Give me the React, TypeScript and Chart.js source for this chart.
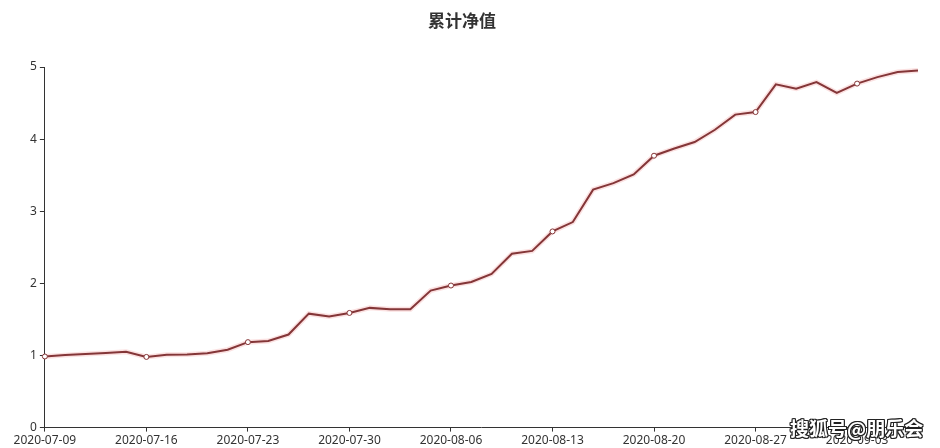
import { useEffect, useRef } from "react";
import { Chart, registerables } from "chart.js";

Chart.register(...registerables);

// trading days, 2020
const dates = [
  "2020-07-09", "2020-07-10", "2020-07-13", "2020-07-14", "2020-07-15",
  "2020-07-16", "2020-07-17", "2020-07-20", "2020-07-21", "2020-07-22",
  "2020-07-23", "2020-07-24", "2020-07-27", "2020-07-28", "2020-07-29",
  "2020-07-30", "2020-07-31", "2020-08-03", "2020-08-04", "2020-08-05",
  "2020-08-06", "2020-08-07", "2020-08-10", "2020-08-11", "2020-08-12",
  "2020-08-13", "2020-08-14", "2020-08-17", "2020-08-18", "2020-08-19",
  "2020-08-20", "2020-08-21", "2020-08-24", "2020-08-25", "2020-08-26",
  "2020-08-27", "2020-08-28", "2020-08-31", "2020-09-01", "2020-09-02",
  "2020-09-03", "2020-09-04", "2020-09-07", "2020-09-08",
];

const netValue = [
  0.986, 1.005, 1.02, 1.035, 1.05,
  0.98, 1.01, 1.015, 1.03, 1.08,
  1.185, 1.2, 1.29, 1.58, 1.54,
  1.59, 1.66, 1.64, 1.64, 1.9,
  1.97, 2.02, 2.13, 2.41, 2.45,
  2.72, 2.85, 3.3, 3.39, 3.51,
  3.77, 3.87, 3.96, 4.13, 4.34,
  4.375, 4.76, 4.7, 4.79, 4.64,
  4.77, 4.86, 4.93, 4.95,
];

const yTicks = [0, 1, 2, 3, 4, 5];
const labelEvery = 5;

const title = "累计净值";
const watermark = "搜狐号@朋乐会";

const axisColor = "#333";
const lineColor = "#843638";

export default function App() {
  const canvasRef = useRef<HTMLCanvasElement>(null);
  const chartRef = useRef<Chart | null>(null);

  useEffect(() => {
    document.body.style.margin = "0";
    if (!canvasRef.current) return;
    if (chartRef.current) chartRef.current.destroy();

    const tickFont = { family: "'Noto Sans', sans-serif", size: 12 };

    chartRef.current = new Chart(canvasRef.current, {
      type: "line",
      data: {
        labels: dates,
        datasets: [
          {
            label: "main",
            data: netValue,
            borderColor: lineColor,
            borderWidth: 2,
            pointRadius: (ctx: any) => (ctx.dataIndex % labelEvery === 0 ? 2.5 : 0),
            pointBackgroundColor: "#fff",
            pointBorderColor: lineColor,
            pointBorderWidth: 1,
            tension: 0,
            fill: false,
          },
          {
            // soft glow under the line
            label: "glow",
            data: netValue,
            borderColor: "rgba(235, 120, 120, 0.22)",
            borderWidth: 5,
            pointRadius: 0,
            tension: 0,
            fill: false,
          },
        ],
      },
      options: {
        animation: false,
        responsive: true,
        maintainAspectRatio: false,
        layout: { padding: { top: 67, left: 27, right: 22, bottom: -2 } },
        plugins: {
          legend: { display: false },
          tooltip: { enabled: false },
        },
        scales: {
          x: {
            type: "category",
            offset: false,
            border: { color: axisColor, width: 1 },
            grid: { drawOnChartArea: false, tickLength: 4, tickColor: axisColor },
            ticks: {
              autoSkip: false,
              maxRotation: 0,
              padding: 2,
              color: axisColor,
              font: tickFont,
              callback: (_v: any, i: number) => (i % labelEvery === 0 ? dates[i] : null),
            },
          },
          y: {
            min: yTicks[0],
            max: yTicks[yTicks.length - 1],
            border: { color: axisColor, width: 1 },
            grid: { drawOnChartArea: false, tickLength: 5, tickColor: axisColor },
            afterBuildTicks: (scale: any) => {
              scale.ticks = yTicks.map((v) => ({ value: v }));
            },
            ticks: { padding: 3, color: axisColor, font: tickFont },
          },
        },
      },
    });

    return () => {
      if (chartRef.current) {
        chartRef.current.destroy();
        chartRef.current = null;
      }
    };
  }, []);

  return (
    <div style={{ position: "relative", width: 940, height: 448, background: "#fff", overflow: "hidden" }}>
      <canvas ref={canvasRef} />
      <div
        style={{
          position: "absolute",
          top: 7,
          left: 0,
          width: 924,
          textAlign: "center",
          fontFamily: "'Noto Sans CJK SC', sans-serif",
          fontWeight: 700,
          fontSize: 17,
          color: "#333",
        }}
      >
        {title}
      </div>
      <div
        style={{
          position: "absolute",
          left: 790,
          top: 414,
          fontFamily: "'Noto Sans CJK SC', sans-serif",
          fontWeight: 700,
          fontSize: 19,
          color: "#fff",
          textShadow:
            "1px 0 0 #222, -1px 0 0 #222, 0 1px 0 #222, 0 -1px 0 #222, 1px 1px 0 #222, -1px -1px 0 #222, 1px -1px 0 #222, -1px 1px 0 #222",
        }}
      >
        {watermark}
      </div>
    </div>
  );
}
